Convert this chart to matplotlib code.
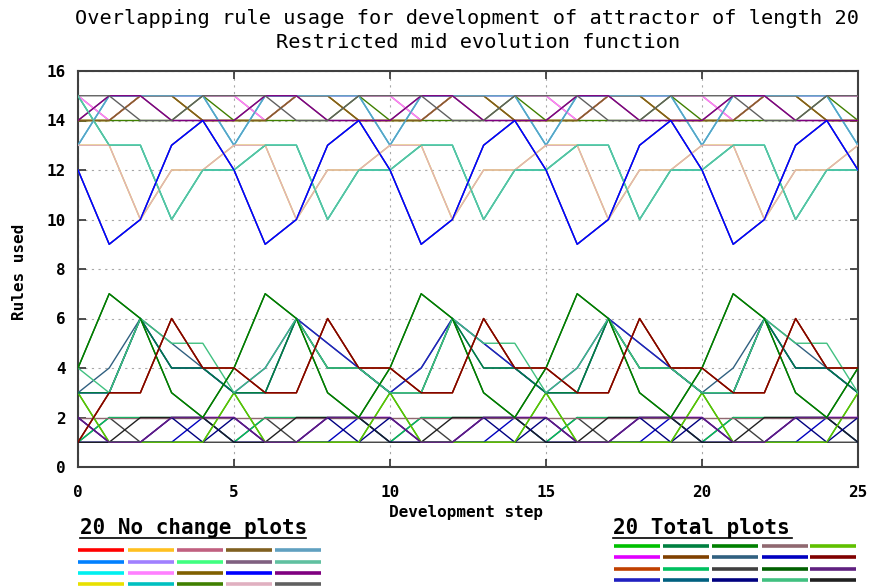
import matplotlib
matplotlib.use('agg')
import matplotlib.pyplot as plt
from matplotlib.lines import Line2D

# development steps 0..25
steps = list(range(26))

# --- "No change" rule paths (upper band) ---
blue_path = [12, 9, 10, 13, 14, 12, 9, 10, 13, 14, 12, 9, 10, 13, 14, 12, 9, 10, 13, 14, 12, 9, 10, 13, 14, 12]
teal_path = [15, 13, 13, 10, 12, 12, 13, 13, 10, 12, 12, 13, 13, 10, 12, 12, 13, 13, 10, 12, 12, 13, 13, 10, 12, 12]
pink_path = [13, 13, 10, 12, 12, 13, 13, 10, 12, 12, 13, 13, 10, 12, 12, 13, 13, 10, 12, 12, 13, 13, 10, 12, 12, 13]
light_path = [13, 15, 15, 15, 15, 13, 15, 15, 15, 15, 13, 15, 15, 15, 15, 13, 15, 15, 15, 15, 13, 15, 15, 15, 15, 13]
magenta_path = [15, 14, 15, 15, 15, 15, 14, 15, 15, 15, 15, 14, 15, 15, 15, 15, 14, 15, 15, 15, 15, 14, 15, 15, 15, 15]
purple_path = [14, 15, 15, 14, 14, 14, 15, 15, 14, 14, 14, 15, 15, 14, 14, 14, 15, 15, 14, 14, 14, 15, 15, 14, 14, 14]
gold_path = [14, 14, 15, 15, 14, 14, 14, 15, 15, 14, 14, 14, 15, 15, 14, 14, 14, 15, 15, 14, 14, 14, 15, 15, 14, 14]
green_path = [14, 14, 14, 14, 15, 14, 14, 14, 14, 15, 14, 14, 14, 14, 15, 14, 14, 14, 14, 15, 14, 14, 14, 14, 15, 14]
gray_path = [15, 15, 14, 14, 15, 15, 15, 14, 14, 15, 15, 15, 14, 14, 15, 15, 15, 14, 14, 15, 15, 15, 14, 14, 15, 15]

# --- "Total" rule paths (lower band) ---
wave_path = [4, 7, 6, 3, 2, 4, 7, 6, 3, 2, 4, 7, 6, 3, 2, 4, 7, 6, 3, 2, 4, 7, 6, 3, 2, 4]
maroon_path = [1, 3, 3, 6, 4, 4, 3, 3, 6, 4, 4, 3, 3, 6, 4, 4, 3, 3, 6, 4, 4, 3, 3, 6, 4, 4]
lime_path = [3, 1, 1, 1, 1, 3, 1, 1, 1, 1, 3, 1, 1, 1, 1, 3, 1, 1, 1, 1, 3, 1, 1, 1, 1, 3]
aqua_path = [4, 3, 6, 5, 5, 3, 4, 6, 4, 4, 3, 3, 6, 5, 5, 3, 4, 6, 4, 4, 3, 3, 6, 5, 5, 3]
steel_path = [3, 4, 6, 5, 4, 3, 3, 6, 5, 4, 3, 4, 6, 5, 4, 3, 3, 6, 5, 4, 3, 4, 6, 5, 4, 3]
slate_path = [3, 3, 6, 4, 4, 3, 4, 6, 5, 4, 3, 4, 6, 5, 4, 3, 4, 6, 5, 4, 3, 3, 6, 4, 4, 3]
sea_path = [3, 3, 6, 4, 4, 3, 3, 6, 4, 4, 3, 3, 6, 4, 4, 3, 3, 6, 4, 4, 3, 3, 6, 4, 4, 3]
rosy_path = [2, 2, 2, 2, 2, 2, 2, 2, 2, 2, 2, 2, 2, 2, 2, 2, 2, 2, 2, 2, 2, 2, 2, 2, 2, 2]
mint_path = [1, 2, 2, 2, 2, 1, 2, 2, 2, 2, 1, 2, 2, 2, 2, 1, 2, 2, 2, 2, 1, 2, 2, 2, 2, 1]
dgray_path = [1, 2, 1, 1, 1, 1, 2, 1, 1, 1, 1, 2, 1, 1, 1, 1, 2, 1, 1, 1, 1, 2, 1, 1, 1, 1]
black_path = [1, 1, 2, 2, 2, 1, 1, 2, 2, 2, 1, 1, 2, 2, 2, 1, 1, 2, 2, 2, 1, 1, 2, 2, 2, 1]
navy_path = [2, 1, 1, 2, 1, 2, 1, 1, 2, 1, 2, 1, 1, 2, 1, 2, 1, 1, 2, 1, 2, 1, 1, 2, 1, 2]
violet_path = [2, 1, 1, 2, 2, 2, 1, 1, 2, 2, 2, 1, 1, 2, 2, 2, 1, 1, 2, 2, 2, 1, 1, 2, 2, 2]
blue2_path = [1, 1, 1, 1, 2, 1, 1, 1, 1, 2, 1, 1, 1, 1, 2, 1, 1, 1, 1, 2, 1, 1, 1, 1, 2, 1]

# 20 "No change" plots, legend order (row-major)
nochange_colors = ['#ff0000', '#ffc020', '#c06080', '#806020', '#60a0c0',
                   '#0080ff', '#a080ff', '#40ff80', '#806080', '#60c0a0',
                   '#00f0f0', '#ff80ff', '#806000', '#0000ff', '#800080',
                   '#e8e000', '#00c0c0', '#408000', '#e0b0c0', '#606060']
nochange_series = [blue_path, gold_path, magenta_path, gold_path, light_path,
                   blue_path, light_path, teal_path, purple_path, teal_path,
                   light_path, magenta_path, gold_path, blue_path, purple_path,
                   pink_path, teal_path, green_path, pink_path, gray_path]
nochange_order = [0, 1, 2, 5, 6, 7, 8, 10, 12, 15, 16, 11, 17, 3, 4, 14, 19, 18, 9, 13]

# 20 "Total" plots, legend order (row-major)
total_colors = ['#00c000', '#008040', '#008000', '#906870', '#60c000',
                '#e000ff', '#804000', '#306080', '#0000c0', '#800000',
                '#c04000', '#00c060', '#404040', '#006000', '#602080',
                '#2020c0', '#006080', '#000080', '#40c080', '#202020']
total_series = [lime_path, sea_path, wave_path, rosy_path, lime_path,
                violet_path, maroon_path, steel_path, blue2_path, maroon_path,
                maroon_path, mint_path, dgray_path, wave_path, violet_path,
                slate_path, sea_path, navy_path, aqua_path, black_path]
total_order = [0, 5, 6, 10, 13, 16, 12, 11, 8, 3, 19, 17, 4, 14, 7, 15, 1, 18, 2, 9]

W, H = 876, 588
fig = plt.figure(figsize=(W / 100, H / 100), dpi=100)
ax = fig.add_axes([78 / W, 1 - 467 / H, 780 / W, 396 / H])

mono = 'DejaVu Sans Mono'

for i in nochange_order:
    ax.plot(steps, nochange_series[i], color=nochange_colors[i], lw=1.0, zorder=3)
for i in total_order:
    ax.plot(steps, total_series[i], color=total_colors[i], lw=1.0, zorder=3)

ax.set_xlim(0, 25)
ax.set_ylim(0, 16)
ax.set_xticks(range(0, 26, 5))
ax.set_yticks(range(0, 17, 2))
ax.grid(True, linestyle=(0, (2, 4)), color='#a8a8a8', lw=0.8, zorder=1)
ax.tick_params(direction='in', length=6, width=1.2, top=True, right=True, color='#303030')
ax.tick_params(axis='x', pad=13)
ax.tick_params(axis='y', pad=9)
for lab in ax.get_xticklabels() + ax.get_yticklabels():
    lab.set_fontfamily(mono)
    lab.set_fontweight('bold')
    lab.set_fontsize(11.5)
for sp in ax.spines.values():
    sp.set_color('#404040')
    sp.set_linewidth(1.5)

# titles and axis labels
fig.text(467 / W, 1 - 18 / H, 'Overlapping rule usage for development of attractor of length 20',
         ha='center', va='center', fontsize=14.6, family=mono)
fig.text(478 / W, 1 - 43 / H, 'Restricted mid evolution function',
         ha='center', va='center', fontsize=14.6, family=mono)
fig.text(466 / W, 1 - 513 / H, 'Development step', ha='center', va='center',
         fontsize=11.5, family=mono, fontweight='bold')
fig.text(20 / W, 1 - 272 / H, 'Rules used', ha='center', va='center', rotation=90,
         fontsize=11.5, family=mono, fontweight='bold')

# custom legends
def draw_legend(title, x0, title_y, underline_x1, row_ys, col_xs, colors):
    fig.text(x0 / W, 1 - title_y / H, title, ha='left', va='center',
             fontsize=15, family=mono, fontweight='bold')
    fig.add_artist(Line2D([x0 / W, underline_x1 / W], [1 - (title_y + 10) / H] * 2,
                          color='black', lw=1.2, transform=fig.transFigure))
    k = 0
    for ry in row_ys:
        for cx in col_xs:
            fig.add_artist(Line2D([cx / W, (cx + 46) / W], [1 - ry / H] * 2,
                                  color=colors[k], lw=2.6, solid_capstyle='butt',
                                  transform=fig.transFigure))
            k += 1

draw_legend('20 No change plots', 80, 528, 306, [550, 561.5, 573, 584],
            [78, 128, 177, 226, 275], nochange_colors)
draw_legend('20 Total plots', 613, 528, 792, [546, 557, 569, 580],
            [614, 663, 712, 762, 810], total_colors)

fig.savefig('out.png', dpi=100)
